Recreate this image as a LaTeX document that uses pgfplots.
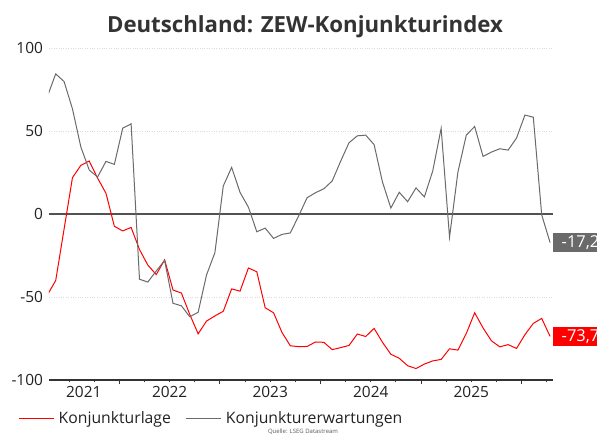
\documentclass[border=0pt]{standalone}
\usepackage{pgfplots}
\pgfplotsset{compat=1.18}
\usepackage{fontspec}
\setmainfont{Open Sans}
\definecolor{zgray}{HTML}{6A6A6A}
\definecolor{zred}{HTML}{FF0000}
\definecolor{ztext}{HTML}{222222}
\begin{document}
\begin{tikzpicture}
\path[use as bounding box] (0bp,0bp) rectangle (597bp,435bp);
\node[anchor=base, inner sep=0pt, font=\bfseries\fontsize{22.3}{26}\selectfont, text=black!80] at (305bp,402bp) {Deutschland: ZEW-Konjunkturindex};
\node[anchor=south, inner sep=0pt, font=\fontsize{6}{7}\selectfont, text=black!65] at (303bp,0.3bp) {Quelle: LSEG Datastream};
\begin{axis}[
  at={(49bp,55bp)}, anchor=south west,
  scale only axis, width=504bp, height=332bp,
  xmin=3.6, xmax=63.75, ymin=-100, ymax=100,
  clip mode=individual,
  axis x line=bottom, axis y line=left,
  x axis line style={-, draw=black!80, line width=1.2bp},
  y axis line style={draw=none},
  ytick={-100,-50,0,50,100},
  ytick style={draw=none},
  ymajorgrids, grid style={dotted, black!14, line width=0.6bp},
  xtick={12,24,36,48,60}, xticklabels={},
  minor xtick={6,9,15,18,21,27,30,33,39,42,45,51,54,57,63},
  tick align=outside,
  major tick length=4.5bp, minor tick length=2.5bp,
  x tick style={draw=black!80, line width=1bp},
  extra x ticks={7.75,18,30,42,54},
  extra x tick labels={2021,2022,2023,2024,2025},
  extra x tick style={major tick length=0pt},
  tick label style={font=\fontsize{15.5}{17}\selectfont, text=ztext},
  xticklabel style={yshift=-3bp},
  yticklabel style={xshift=2bp},
  /pgf/number format/assume math mode=true,
  legend style={at={(-0.0615,-0.115)}, anchor=west, draw=none, fill=none,
    font=\fontsize{15.8}{17}\selectfont, text=ztext, inner xsep=0pt,
    legend columns=2,
    nodes={inner xsep=4.5bp},
    /tikz/every even column/.append style={column sep=10bp}},
  legend image code/.code={\draw[#1] (0bp,0bp) -- (35bp,0bp);},
]
\addplot[draw=black!68, line width=1.3bp, forget plot] coordinates {(3.6,0) (63.75,0)};
\addplot[zred, line width=1bp] coordinates {
(3.4,-48.8) (4.4,-40.1) (5.4,-9.1) (6.4,21.9) (7.4,29.3) (8.4,31.9) (9.4,21.6) (10.4,12.5) (11.4,-7.4)
(12.4,-10.2) (13.4,-8.1) (14.4,-21.4) (15.4,-30.8) (16.4,-36.5) (17.4,-27.6) (18.4,-45.8) (19.4,-47.6) (20.4,-60.5) (21.4,-72.2) (22.4,-64.5) (23.4,-61.4)
(24.4,-58.6) (25.4,-45.1) (26.4,-46.5) (27.4,-32.5) (28.4,-34.8) (29.4,-56.5) (30.4,-59.5) (31.4,-71.3) (32.4,-79.4) (33.4,-79.9) (34.4,-79.8) (35.4,-77.1)
(36.4,-77.3) (37.4,-81.7) (38.4,-80.5) (39.4,-79.2) (40.4,-72.3) (41.4,-73.8) (42.4,-68.9) (43.4,-77.3) (44.4,-84.5) (45.4,-86.9) (46.4,-91.4) (47.4,-93.1)
(48.4,-90.4) (49.4,-88.5) (50.4,-87.6) (51.4,-81.2) (52.4,-82.0) (53.4,-72.0) (54.4,-59.5) (55.4,-68.6) (56.4,-76.4) (57.4,-80.0) (58.4,-78.7) (59.4,-81.0)
(60.4,-72.7) (61.4,-65.9) (62.4,-62.9) (63.4,-73.7)
};
\addlegendentry{Konjunkturlage}
\addplot[zgray, line width=1bp] coordinates {
(3.4,70.7) (4.4,84.4) (5.4,79.8) (6.4,63.3) (7.4,40.4) (8.4,26.5) (9.4,22.3) (10.4,31.7) (11.4,29.9)
(12.4,51.7) (13.4,54.3) (14.4,-39.3) (15.4,-41.0) (16.4,-34.3) (17.4,-28.0) (18.4,-53.8) (19.4,-55.3) (20.4,-61.9) (21.4,-59.2) (22.4,-36.7) (23.4,-23.3)
(24.4,16.9) (25.4,28.1) (26.4,13.0) (27.4,4.1) (28.4,-10.7) (29.4,-8.5) (30.4,-14.7) (31.4,-12.3) (32.4,-11.4) (33.4,-1.1) (34.4,9.8) (35.4,12.8)
(36.4,15.2) (37.4,19.9) (38.4,31.7) (39.4,42.9) (40.4,47.1) (41.4,47.5) (42.4,41.8) (43.4,19.2) (44.4,3.6) (45.4,13.1) (46.4,7.4) (47.4,15.7)
(48.4,10.3) (49.4,26.0) (50.4,51.6) (51.4,-14.0) (52.4,25.2) (53.4,47.5) (54.4,52.7) (55.4,34.7) (56.4,37.3) (57.4,39.3) (58.4,38.5) (59.4,45.8)
(60.4,59.6) (61.4,58.3) (62.4,-0.5) (63.4,-17.2)
};
\addlegendentry{Konjunkturerwartungen}
\node[anchor=west, fill=zgray, text=white, font=\fontsize{16.5}{18}\selectfont, minimum height=19bp, inner xsep=8.5bp, inner ysep=0pt] at (axis cs:63.75,-17.2) {-17,2};
\node[anchor=west, fill=zred, text=white, font=\fontsize{16.5}{18}\selectfont, minimum height=19bp, inner xsep=8.5bp, inner ysep=0pt] at (axis cs:63.75,-73.7) {-73,7};
\end{axis}
\end{tikzpicture}
\end{document}
